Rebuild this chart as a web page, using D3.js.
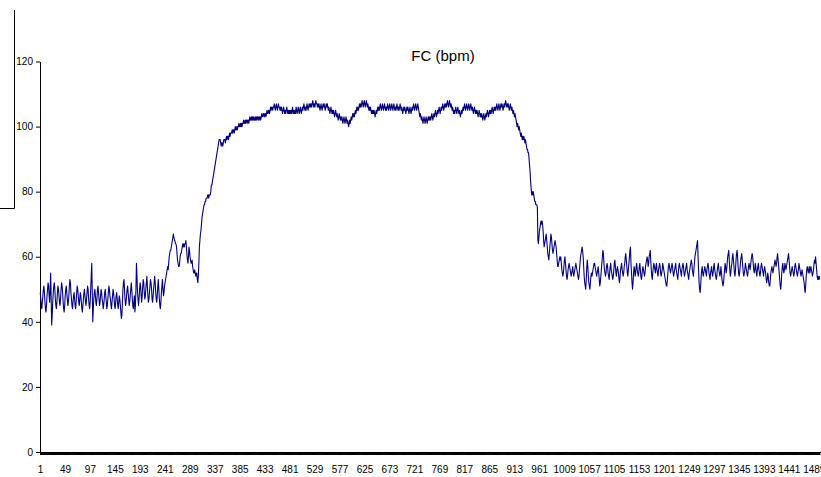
<!DOCTYPE html>
<html><head><meta charset="utf-8">
<script src="https://cdn.jsdelivr.net/npm/d3@7"></script>
<style>body{margin:0;background:#fff}svg{display:block}</style>
</head><body><svg id="c" width="821" height="477"></svg>
<script>
const chartTitle = "FC (bpm)";
const yTickValues = [0, 20, 40, 60, 80, 100, 120];
const xTickLabels = ["1","49","97","145","193","241","289","337","385","433","481","529","577","625","673","721","769","817","865","913","961","1009","1057","1105","1153","1201","1249","1297","1345","1393","1441","1489"];
const hrValues = [
49,47,45,44,46,48,50,51,49,46,
44,43,45,48,50,52,51,48,46,50,
55,47,39,42,46,49,51,52,50,47,
45,44,46,49,51,50,48,46,45,47,
50,52,51,49,46,44,43,45,48,50,
51,49,47,45,46,48,51,53,52,49,
47,45,44,46,48,49,47,45,44,46,
49,51,50,48,46,45,47,49,48,46,
44,43,45,47,49,50,48,46,45,47,
49,51,50,47,45,44,46,50,54,58,
49,40,44,47,49,50,48,46,45,47,
50,51,49,47,45,46,48,50,49,47,
46,44,45,47,49,50,48,46,44,45,
47,49,51,50,48,47,45,44,46,48,
50,49,47,45,44,46,48,49,47,45,
44,46,48,47,45,43,41,42,46,50,
52,53,50,47,45,46,48,50,51,49,
47,45,46,48,50,52,50,47,45,44,
46,48,43,45,50,58,54,49,47,45,
47,50,52,51,48,46,48,51,53,52,
49,47,48,50,52,54,51,48,46,47,
49,51,53,52,50,47,46,48,50,52,
54,52,49,47,46,48,51,53,50,47,
45,44,46,49,51,53,50,48,49,51,
52,53,54,55,56,57,56,58,60,61,
62,62,63,64,65,66,67,66,65,65,
64,64,63,61,59,58,57,57,58,60,
61,61,62,63,64,63,64,63,64,64,
65,63,61,59,58,60,63,62,60,59,
58,58,59,57,56,55,55,56,55,54,
55,55,53,52,54,58,63,65,67,68,
70,72,73,74,75,76,76,77,77,78,
78,78,79,79,78,79,79,79,80,82,
82,83,84,85,86,87,88,89,90,91,
92,93,94,95,96,96,96,95,94,95,
95,94,95,96,96,96,95,96,97,96,
97,97,96,97,98,97,98,98,98,99,
98,99,99,98,99,100,99,99,100,99,
100,100,101,100,100,101,100,101,100,101,
101,102,101,101,102,101,102,102,101,102,
102,101,102,103,102,102,103,102,103,102,
103,102,102,103,102,103,102,103,103,102,
103,102,103,103,102,103,104,103,103,104,
104,103,104,104,103,104,105,104,104,105,
105,104,105,106,105,106,106,105,106,106,
107,106,105,106,107,106,105,106,107,106,
106,105,106,105,106,105,104,105,106,105,
104,105,104,105,106,105,104,105,104,105,
104,105,104,105,104,106,105,104,105,104,
105,104,106,105,104,105,106,105,104,105,
106,105,104,105,106,105,106,107,106,105,
106,105,106,107,106,105,106,107,106,107,
106,107,106,107,108,107,106,107,106,107,
108,107,107,106,107,106,107,106,105,106,
107,106,105,106,107,106,107,106,105,106,
107,106,107,106,105,106,105,104,105,106,
105,104,105,104,105,104,103,104,105,104,
103,104,103,102,103,104,103,102,103,102,
103,102,101,102,103,102,101,102,103,102,
101,102,101,100,101,102,101,102,103,102,
103,104,103,104,103,104,105,104,105,106,
105,106,105,106,107,106,107,106,107,108,
107,106,107,108,107,106,107,108,107,106,
107,106,105,106,105,106,105,104,105,104,
105,104,105,104,103,104,105,104,105,106,
105,106,105,106,107,106,105,106,107,106,
105,106,107,106,105,106,105,106,107,106,
105,106,107,106,105,106,107,106,105,106,
107,106,105,106,105,106,107,106,105,106,
105,106,107,106,105,106,105,104,105,106,
105,106,105,104,105,106,105,106,105,104,
105,106,105,104,105,106,105,106,107,106,
105,106,107,106,105,106,107,106,105,104,
103,104,103,102,103,102,101,102,103,102,
101,102,103,102,101,102,103,102,103,102,
103,102,103,104,103,102,103,104,103,104,
105,104,103,104,105,104,105,106,105,104,
105,106,105,106,107,106,105,106,107,106,
107,106,107,108,107,106,107,108,107,106,
107,106,105,106,105,104,105,104,105,106,
105,104,105,106,105,104,105,104,103,104,
105,104,105,106,105,106,107,106,105,106,
107,106,105,106,107,106,105,106,107,106,
105,106,105,104,105,106,105,104,105,104,
105,104,103,104,105,104,103,104,103,104,
103,102,103,104,103,102,103,104,103,104,
105,104,103,104,105,104,105,104,105,106,
105,104,105,106,105,106,105,106,107,106,
105,106,107,106,105,106,107,106,107,106,
105,106,107,106,107,108,107,106,107,106,
107,106,105,106,107,106,105,106,105,104,
105,104,103,104,103,102,101,100,101,100,
99,100,99,98,97,98,97,96,97,96,
97,96,95,96,95,94,93,93,92,92,
90,88,86,83,81,79,80,79,80,79,
78,77,77,76,76,76,75,65,64,66,
68,69,70,71,70,71,70,68,65,63,
64,65,66,67,65,63,61,60,59,61,
63,65,67,66,64,62,61,62,63,64,
65,64,63,61,59,57,57,58,59,60,
59,60,58,56,55,54,55,57,59,60,
58,56,54,53,54,56,57,58,57,56,
55,54,55,56,57,55,54,55,56,57,
58,57,56,55,54,53,54,56,58,60,
61,62,63,62,60,57,54,52,51,50,
53,57,59,57,54,52,51,50,52,54,
55,54,55,56,57,58,58,57,56,55,
54,55,56,57,55,53,51,52,54,56,
58,60,62,61,58,56,55,54,55,57,
58,57,55,54,53,55,57,58,56,55,
54,53,54,56,58,59,57,55,54,56,
57,56,55,53,52,54,56,57,58,56,
55,54,55,57,58,60,61,59,57,55,
54,56,58,60,62,63,58,55,52,50,
52,55,57,56,54,55,57,58,56,55,
54,55,57,58,56,54,53,54,56,57,
56,55,54,55,57,58,59,60,59,57,
58,60,61,62,59,56,54,53,55,57,
58,57,56,55,57,58,56,55,54,56,
57,58,57,55,54,55,56,58,57,56,
55,54,53,52,51,51,53,55,57,58,
57,56,55,56,57,58,57,55,54,55,
56,57,58,56,55,54,53,55,57,58,
57,56,55,54,56,57,58,57,55,54,
55,56,57,58,56,55,54,53,55,56,
57,58,59,58,56,55,54,56,58,60,
61,62,63,64,65,60,56,52,50,49,
51,54,56,57,55,54,55,56,57,56,
55,54,56,57,58,57,55,54,53,55,
56,57,55,54,55,57,58,56,55,54,
53,54,56,57,58,56,55,54,55,57,
55,53,52,51,52,54,56,58,57,55,
56,58,60,61,62,59,56,54,55,57,
58,60,61,59,57,55,54,56,59,61,
62,60,57,55,54,55,57,59,60,61,
59,57,55,54,55,56,58,57,56,55,
54,55,57,58,57,56,57,59,60,61,
60,58,56,55,56,58,57,55,54,56,
57,58,56,55,54,55,57,58,57,56,
55,54,56,57,56,55,53,52,53,55,
54,52,51,51,53,55,56,57,56,55,
56,57,58,59,58,57,58,60,61,59,
57,55,53,51,50,52,55,57,58,56,
55,56,58,57,56,57,58,59,60,61,
59,57,55,54,55,56,57,56,55,54,
55,57,58,57,56,55,54,55,56,58,
57,56,55,54,55,56,55,54,53,52,
50,49,51,54,56,57,56,55,56,57,
55,56,57,56,55,54,55,56,58,59,
58,60,58,56,54,53,54,53,54,53
];
const categories = hrValues.map((d, i) => String(i + 1));

const plotLeft = 40, bandStep = 0.52, plotTop = 61.5, plotBottom = 452;
const svg = d3.select("#c");
const font = "'Liberation Sans', Arial, sans-serif";

const x = d3.scaleBand().domain(categories)
  .range([plotLeft, plotLeft + categories.length * bandStep]).padding(0);
const y = d3.scaleLinear().domain([0, 120]).range([plotBottom, plotTop]);

// stray frame fragment at top-left
svg.append("path").attr("d", "M14.5,10V208.5H0")
  .attr("fill", "none").attr("stroke", "#000").attr("stroke-width", 1);

// y axis
const yAxis = svg.append("g").attr("transform", `translate(${plotLeft},0)`)
  .call(d3.axisLeft(y).tickValues(yTickValues).tickSize(4).tickSizeOuter(0).tickPadding(3));
yAxis.selectAll("text").style("font-family", font).style("font-size", "10px").attr("fill", "#000");
yAxis.selectAll("line,path").attr("stroke", "#000");

// x axis: a tick for every category, labels every 48 categories
const xTicks = svg.append("g").attr("transform", `translate(0,${plotBottom})`)
  .call(d3.axisBottom(x).tickValues(categories).tickSize(3).tickSizeOuter(0).tickFormat(""));
xTicks.selectAll("line,path").attr("stroke", "#000");
xTicks.select(".domain").attr("d", `M${plotLeft},0.5H821`);
const xLabels = svg.append("g").attr("transform", `translate(0,${plotBottom})`)
  .call(d3.axisBottom(x).tickValues(xTickLabels).tickSize(0).tickPadding(13.4));
xLabels.select(".domain").remove();
xLabels.selectAll("text").style("font-family", font).style("font-size", "10px").attr("fill", "#000");

// series line
const line = d3.line()
  .x((d, i) => x(categories[i]) + x.bandwidth() / 2)
  .y(d => y(d));
svg.append("path").datum(hrValues)
  .attr("d", line).attr("fill", "none")
  .attr("stroke", "#000080").attr("stroke-width", 1.1).attr("stroke-linejoin", "round");

// title
svg.append("text").attr("x", 443).attr("y", 61).attr("text-anchor", "middle")
  .style("font-family", font).style("font-size", "15px").attr("fill", "#000")
  .text(chartTitle);
</script></body></html>
